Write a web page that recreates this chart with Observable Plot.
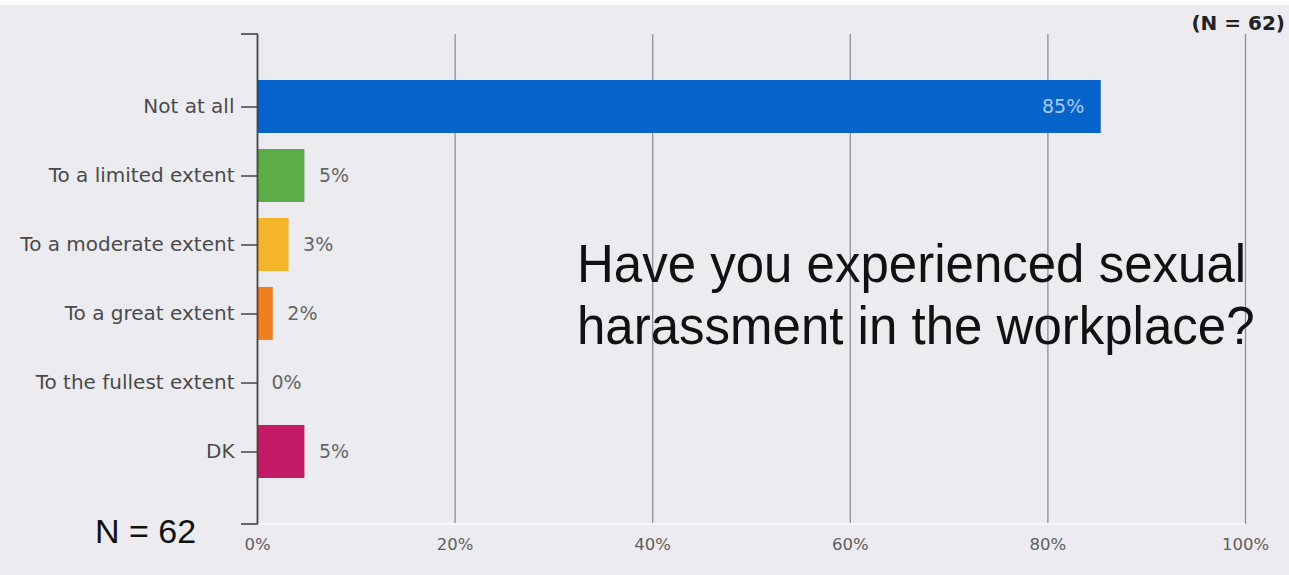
<!DOCTYPE html>
<html>
<head>
<meta charset="utf-8">
<script src="https://cdn.jsdelivr.net/npm/d3@7"></script>
<script src="https://cdn.jsdelivr.net/npm/@observablehq/plot@0.6"></script>
<style>
  html, body { margin: 0; padding: 0; background: #ececf0; }
  #wrap { position: relative; width: 1289px; height: 575px; overflow: hidden; background: #ececf0; }
  #topstrip { position: absolute; left: 0; top: 0; width: 1289px; height: 5px; background: #fbfbfd; }
  .q { position: absolute; left: 577px; top: 233px; font-family: "Liberation Sans", Arial, sans-serif; font-size: 51px; line-height: 59px; color: #111; white-space: nowrap; transform: scaleY(1.05); transform-origin: 0 0; }
  .n1 { position: absolute; left: 95px; top: 514px; font-family: "Liberation Sans", Arial, sans-serif; font-size: 34px; line-height: 1; color: #111; }
  .n2 { position: absolute; right: 4px; top: 13px; font-family: "DejaVu Sans", sans-serif; font-weight: bold; font-size: 20px; line-height: 1; color: #222; }
  #chart { position: absolute; left: 0; top: 0; }
</style>
</head>
<body>
<div id="wrap">
  <div id="topstrip"></div>
  <div id="chart"></div>
  <div class="q">Have you experienced sexual<br>harassment in the workplace?</div>
  <div class="n1">N = 62</div>
  <div class="n2">(N = 62)</div>
</div>
<script>
const categories = ["Not at all", "To a limited extent", "To a moderate extent", "To a great extent", "To the fullest extent", "DK"];
const values = [85.4, 4.8, 3.2, 1.6, 0, 4.8];
const colors = ["#0563c9", "#5cac48", "#f3b52a", "#f07f22", "#c0c0c0", "#c41b67"];
const xTicks = [0, 20, 40, 60, 80, 100];

const data = categories.map((c, i) => ({category: c, value: values[i]}));
const pct = d => Math.round(d) + "%";

// axis end caps (top & bottom of the y-axis line) and faint baseline
const caps = (index, scales, values, dimensions) => {
  const {marginTop, height, marginBottom, width, marginRight} = dimensions;
  const g = d3.create("svg:g");
  const x0 = scales.x(0);
  const yTop = marginTop, yBot = height - marginBottom;
  g.append("line").attr("x1", x0).attr("x2", width - marginRight).attr("y1", yBot).attr("y2", yBot)
    .attr("stroke", "#f8f8fb").attr("stroke-width", 2);
  for (const y of [yTop, yBot]) {
    g.append("line").attr("x1", x0 - 16).attr("x2", x0 + 1).attr("y1", y).attr("y2", y)
      .attr("stroke", "#444").attr("stroke-width", 1.6);
  }
  return g.node();
};

const chart = Plot.plot({
  width: 1289,
  height: 575,
  marginLeft: 257,
  marginRight: 44,
  marginTop: 34,
  marginBottom: 51,
  style: {background: "transparent", fontFamily: "DejaVu Sans, Verdana, sans-serif"},
  x: {domain: [0, 100]},
  y: {domain: categories, paddingInner: 0.23, paddingOuter: 0.62},
  color: {domain: categories, range: colors},
  marks: [
    Plot.ruleX(xTicks.slice(1), {stroke: "#8a9098", strokeWidth: 1.3}),
    caps,
    Plot.barX(data, {x: "value", y: "category", fill: "category"}),
    Plot.ruleX([0], {stroke: "#444", strokeWidth: 1.8}),
    Plot.axisY({tickSize: 16, tickPadding: 7, fontSize: 20, fill: "#4a4a4a", stroke: "#444", strokeWidth: 1.5, label: null}),
    Plot.axisX({ticks: xTicks, tickFormat: d => d + "%", tickSize: 0, tickPadding: 14, fontSize: 16.5, fill: "#5e5e5e", label: null}),
    Plot.text(data.filter(d => d.value < 50), {x: "value", y: "category", text: d => pct(d.value), dx: 14, textAnchor: "start", fill: "#666", fontSize: 19}),
    Plot.text(data.filter(d => d.value >= 50), {x: "value", y: "category", text: d => pct(d.value), dx: -17, textAnchor: "end", fill: "#a9c9ef", fontSize: 19})
  ]
});
document.getElementById("chart").appendChild(chart);
</script>
</body>
</html>
